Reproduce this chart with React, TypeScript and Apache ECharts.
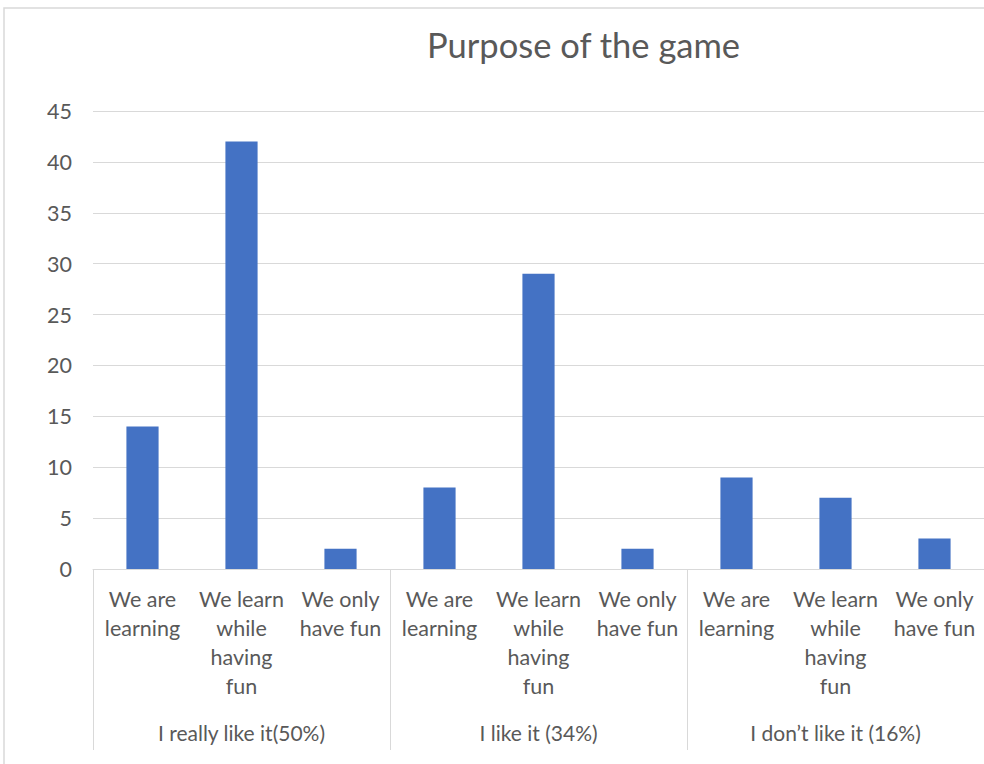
import React, { useEffect, useRef } from "react";
import * as echarts from "echarts";

const categories = [
  "We are\nlearning", "We learn\nwhile\nhaving\nfun", "We only\nhave fun",
  "We are\nlearning", "We learn\nwhile\nhaving\nfun", "We only\nhave fun",
  "We are\nlearning", "We learn\nwhile\nhaving\nfun", "We only\nhave fun",
];
const groups = ["I really like it(50%)", "I like it (34%)", "I don\u2019t like it (16%)"];
const values = [14, 42, 2, 8, 29, 2, 9, 7, 3];
const yMin = 0;
const yMax = 45;
const yStep = 5;

const FONT = "Lato, 'Open Sans', sans-serif";
const TXT = "#595959";
const LINE = "#d9d9d9";

export default function App() {
  const ref = useRef<HTMLDivElement>(null);
  useEffect(() => {
    if (!ref.current) return;
    const chart = echarts.init(ref.current, null, { renderer: "svg" });
    chart.setOption({
      animation: false,
      backgroundColor: "#ffffff",
      title: {
        text: "Purpose of the game",
        left: 422,
        top: 22,
        textStyle: { fontFamily: FONT, fontSize: 34.5, fontWeight: "normal", color: TXT },
      },
      graphic: [
        {
          type: "rect",
          shape: { x: 4, y: 8, width: 1000, height: 800 },
          style: { fill: "none", stroke: LINE, lineWidth: 1.5 },
          silent: true,
          z: -1,
        },
      ],
      grid: { left: 93, right: 0, top: 111, bottom: 195 },
      xAxis: [
        {
          type: "category",
          data: categories,
          position: "bottom",
          axisLine: { show: true, lineStyle: { color: LINE, width: 1 } },
          axisTick: { show: false },
          axisLabel: {
            interval: 0,
            margin: 15,
            fontFamily: FONT,
            fontSize: 21.5,
            lineHeight: 29,
            color: TXT,
            align: "center",
          },
        },
        {
          type: "category",
          data: groups,
          position: "bottom",
          axisLine: { show: false },
          axisTick: { show: true, length: 181, lineStyle: { color: LINE, width: 1 } },
          axisLabel: {
            interval: 0,
            margin: 153,
            fontFamily: FONT,
            fontSize: 21,
            color: TXT,
          },
        },
      ],
      yAxis: {
        type: "value",
        min: yMin,
        max: yMax,
        interval: yStep,
        axisLine: { show: false },
        axisTick: { show: false },
        splitLine: { lineStyle: { color: LINE, width: 1 } },
        axisLabel: { margin: 21, fontFamily: FONT, fontSize: 21.5, color: TXT },
      },
      series: [
        {
          type: "bar",
          data: values,
          barWidth: "32.5%",
          itemStyle: { color: "#4472C4" },
        },
      ],
    });
    return () => chart.dispose();
  }, []);
  return (
    <div
      ref={ref}
      style={{ position: "fixed", left: 0, top: 0, width: 984, height: 764, background: "#fff" }}
    />
  );
}
